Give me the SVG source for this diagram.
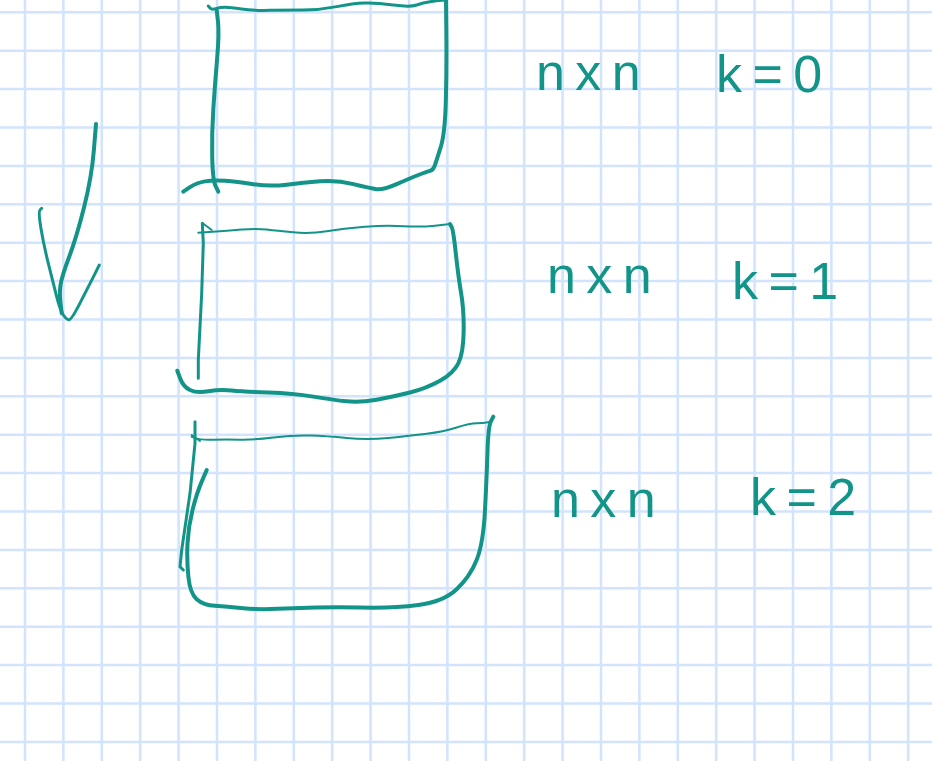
<svg xmlns="http://www.w3.org/2000/svg" width="932" height="761" viewBox="0 0 932 761">
<style>
.grid{stroke:#d2e3fd;stroke-width:2.5;fill:none}
.ink{stroke:#139488;fill:none;stroke-linecap:round;stroke-linejoin:round}
.thick{stroke-width:4}
.mid{stroke-width:3}
.thin{stroke-width:2}
.lbl{fill:#139488;font-family:"Liberation Sans",Arial,sans-serif;font-size:52px;letter-spacing:-2px}
</style>
<rect width="932" height="761" fill="#ffffff"/>
<path class="grid" d="M25 0V761M63.4 0V761M101.8 0V761M140.2 0V761M178.6 0V761M217 0V761M255.4 0V761M293.8 0V761M332.2 0V761M370.6 0V761M409 0V761M447.4 0V761M485.8 0V761M524.2 0V761M562.6 0V761M601 0V761M639.4 0V761M677.8 0V761M716.2 0V761M754.6 0V761M793 0V761M831.4 0V761M869.8 0V761M908.2 0V761M0 12.3H932M0 50.7H932M0 89.1H932M0 127.5H932M0 165.9H932M0 204.3H932M0 242.7H932M0 281.1H932M0 319.5H932M0 357.9H932M0 396.3H932M0 434.7H932M0 473.1H932M0 511.5H932M0 549.9H932M0 588.3H932M0 626.7H932M0 665.1H932M0 703.5H932M0 741.9H932"/>
<g id="matrix-k0">
<path class="ink mid" d="M208.3,6 L210,8 Q211.7,10 215.85,8.65 Q220,7.3 225,7.3 Q230,7.3 241.65,9 Q253.3,10.7 270,10.35 Q286.7,10 303.35,10 Q320,10 336.65,6.65 Q353.3,3.3 365,3 Q376.7,2.7 393.35,5 Q410,7.3 416.65,5 Q423.3,2.7 430,1.7 Q436.7,0.7 441.7,0.35 L446.7,0"/>
<path class="ink thick" d="M446,0 L446.35,33.35 Q446.7,66.7 445.85,100 Q445,133.3 440.85,146.65 Q436.7,160 435,165 Q433.3,170 430,170.85 Q426.7,171.7 418.35,175 Q410,178.3 396.65,184.15 Q383.3,190 376.65,189.15 Q370,188.3 353.35,184.15 Q336.7,180 320,181.35 Q303.3,182.7 286.65,184.7 Q270,186.7 253.35,184.2 Q236.7,181.7 225,180.85 Q213.3,180 205,181.35 Q196.7,182.7 190,187.2 L183.3,191.7"/>
<path class="ink thick" d="M216.7,10 L218,21.65 Q219.3,33.3 217.15,58.3 Q215,83.3 213.35,108.3 Q211.7,133.3 212.2,156.65 Q212.7,180 215.5,185.85 L218.3,191.7"/>
<text class="lbl" x="536" y="90">n x n</text>
<text class="lbl" x="716" y="92">k = 0</text>
</g>
<g id="matrix-k1">
<path class="ink thin" d="M198.3,232.7 L212.5,231.7 Q226.7,230.7 241.7,229.5 Q256.7,228.3 266.7,229.5 Q276.7,230.7 293.35,232.35 Q310,234 326.65,231.15 Q343.3,228.3 365,226.65 Q386.7,225 403.35,226.15 Q420,227.3 435,225.65 L450,224"/>
<polyline class="ink thin" points="202.7,223.3 211.7,230"/>
<path class="ink thick" d="M450,224 L451.65,227 Q453.3,230 455.8,253.35 Q458.3,276.7 461.15,293.35 Q464,310 463.65,331.65 Q463.3,353.3 458.3,363.3 Q453.3,373.3 440,380.8 Q426.7,388.3 410,392.5 Q393.3,396.7 376.65,399.7 Q360,402.7 346.65,401.35 Q333.3,400 313.3,396.65 Q293.3,393.3 268.3,392.5 Q243.3,391.7 231.65,390.5 Q220,389.3 208.35,391.3 Q196.7,393.3 190,390 Q183.3,386.7 180.3,378.7 L177.3,370.7"/>
<polyline class="ink mid" points="202.3,223.3 203.3,243.3 201.7,293.3 198.3,360 198.3,378.3"/>
<text class="lbl" x="547" y="293">n x n</text>
<text class="lbl" x="732" y="299">k = 1</text>
</g>
<g id="matrix-k2">
<polyline class="ink mid" points="195,421.7 195,443.3 190,493.3 181.7,550 180,566.7 183.3,570"/>
<path class="ink thick" d="M206.7,470 L201.7,481.65 Q196.7,493.3 192.5,510 Q188.3,526.7 187.5,543.35 Q186.7,560 188.35,576.65 Q190,593.3 196.65,599.15 Q203.3,605 215,605.85 Q226.7,606.7 243.35,608.35 Q260,610 293.35,608.35 Q326.7,606.7 360,607.5 Q393.3,608.3 418.3,605 Q443.3,601.7 456.65,589.2 Q470,576.7 476.65,560 Q483.3,543.3 485,510 Q486.7,476.7 487.5,451.7 Q488.3,426.7 490.8,421.7 L493.3,416.7"/>
<path class="ink thin" d="M191.7,436.7 L195.85,438.35 Q200,440 213.35,439.65 Q226.7,439.3 240,439.65 Q253.3,440 273.3,437.5 Q293.3,435 310,435.5 Q326.7,436 346.7,438 Q366.7,440 388.35,438 Q410,436 426.65,433.85 Q443.3,431.7 456.65,427.5 Q470,423.3 476.65,423.3 Q483.3,423.3 486.65,422.5 L490,421.7"/>
<polyline class="ink thin" points="191.7,435 200,441"/>
<text class="lbl" x="551" y="517">n x n</text>
<text class="lbl" x="750" y="515">k = 2</text>
</g>
<g id="connectors">
<path class="ink thick" d="M96,124 L93.85,150.35 Q91.7,176.7 84.2,206.7 Q76.7,236.7 69.2,256.7 Q61.7,276.7 60.5,285 Q59.3,293.3 60.5,303.3 L61.7,313.3"/>
<path class="ink mid" d="M41.7,208.3 L40,210 Q38.3,211.7 40.8,227.5 Q43.3,243.3 48.3,263.3 Q53.3,283.3 56.65,296.65 Q60,310 63.35,315 Q66.7,320 69.2,319.65 Q71.7,319.3 79.2,304.65 Q86.7,290 93,277.65 L99.3,265"/>
</g>
</svg>
